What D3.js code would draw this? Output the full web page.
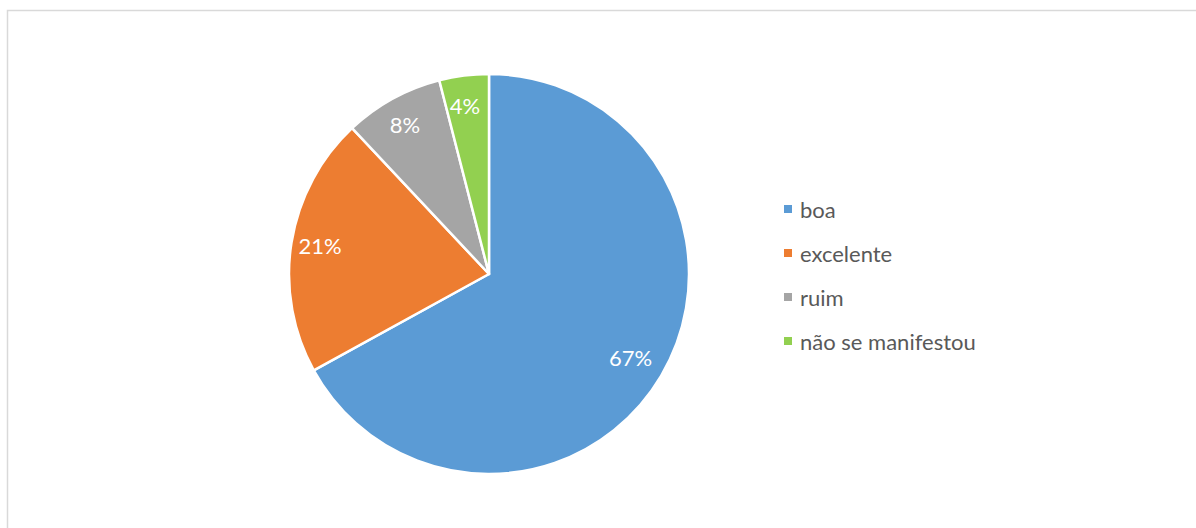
<!DOCTYPE html>
<html>
<head>
<meta charset="utf-8">
<script src="https://cdn.jsdelivr.net/npm/d3@7"></script>
<style>
  html, body { margin: 0; padding: 0; background: #fff; }
  svg { display: block; }
</style>
</head>
<body>
<svg id="chart" width="1196" height="528"></svg>
<script>
const categories = ["boa", "excelente", "ruim", "não se manifestou"];
const values = [67, 21, 8, 4];
const colors = ["#5B9BD5", "#ED7D31", "#A5A5A5", "#92D050"];

const svg = d3.select("#chart");
const font = "Lato, 'Open Sans', sans-serif";

// chart frame
svg.append("rect")
  .attr("x", 7.5).attr("y", 10.5)
  .attr("width", 1200).attr("height", 540)
  .attr("fill", "none").attr("stroke", "#D9D9D9").attr("stroke-width", 1.5);

const cx = 489, cy = 274, R = 200;
const data = categories.map((c, i) => ({ name: c, value: values[i], color: colors[i] }));

const pie = d3.pie().value(d => d.value).sort(null);
const arc = d3.arc().innerRadius(0).outerRadius(R);
const labelArc = d3.arc().innerRadius(168).outerRadius(168);

const g = svg.append("g").attr("transform", `translate(${cx},${cy})`);
const arcs = pie(data);
const total = d3.sum(values);

g.selectAll("path").data(arcs).join("path")
  .attr("d", arc)
  .attr("fill", d => d.data.color)
  .attr("stroke", "#fff").attr("stroke-width", 2.5).attr("stroke-linejoin", "round");

g.selectAll("text.lbl").data(arcs).join("text")
  .attr("class", "lbl")
  .attr("transform", d => {
    const [x, y] = labelArc.centroid(d);
    return `translate(${x - 3},${y - 2})`;
  })
  .attr("text-anchor", "middle")
  .attr("dominant-baseline", "central")
  .attr("fill", "#fff")
  .attr("font-family", font)
  .attr("font-size", 22)
  .text(d => Math.round(d.data.value / total * 100) + "%");

// legend
const legend = svg.append("g").attr("transform", "translate(784,209)");
const step = 44;
const items = legend.selectAll("g").data(data).join("g")
  .attr("transform", (d, i) => `translate(0,${i * step})`);
items.append("rect")
  .attr("x", 0).attr("y", -4).attr("width", 8).attr("height", 8)
  .attr("fill", d => d.color);
items.append("text")
  .attr("x", 16).attr("y", 0)
  .attr("dominant-baseline", "central")
  .attr("fill", "#595959")
  .attr("font-family", font)
  .attr("font-size", 22)
  .text(d => d.name);
</script>
</body>
</html>
